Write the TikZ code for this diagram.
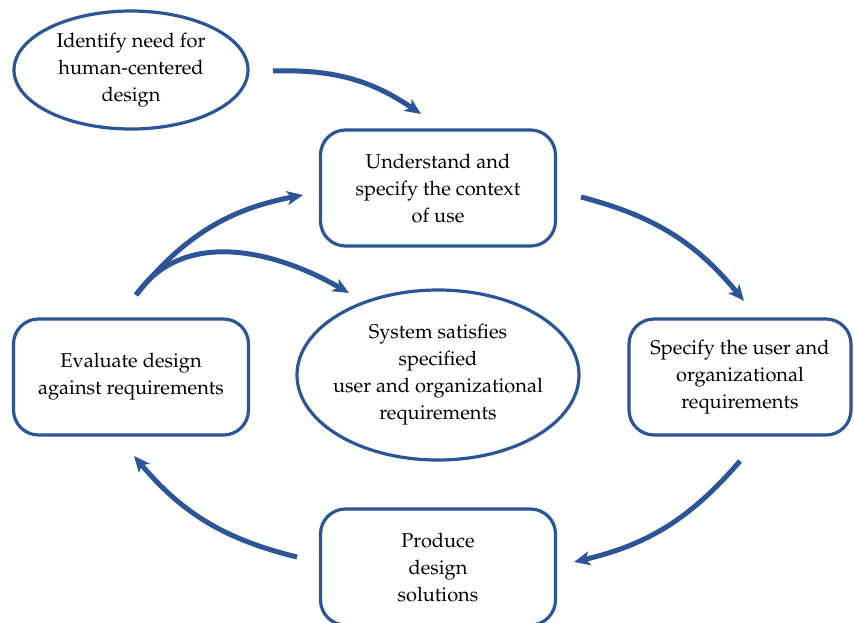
\documentclass[tikz,border=0pt]{standalone}
\usepackage[T1]{fontenc}
\usepackage{mathpazo}
\usetikzlibrary{arrows.meta,shapes.geometric}
\definecolor{hcdblue}{RGB}{44,85,151}

\tikzset{
  stepbox/.style={draw=hcdblue, line width=3.2pt, rounded corners=25pt,
    minimum width=235pt, minimum height=116pt, align=center},
  goal/.style={draw=hcdblue, line width=3.2pt, ellipse, inner sep=0pt, align=center},
  flow/.style={draw=hcdblue, line width=5pt, -{Stealth[length=16pt,width=14pt,inset=4pt]}}
}

\begin{document}
\begin{tikzpicture}[x=1pt, y=-1pt, font=\fontsize{20}{27}\selectfont]
  \useasboundingbox (0,0) rectangle (854,622);
  \clip (0,0) rectangle (854,622);

  \node (need) at (131, 70) [goal, minimum width=234pt, minimum height=118pt] {Identify need for\\human-centered\\design};
  \node (context) at (438, 188) [stepbox] {Understand and\\specify the context\\of use};
  \node (reqs) at (740, 377) [stepbox, minimum width=222pt] {Specify the user and\\organizational\\requirements};
  \node (produce) at (438, 567) [stepbox] {Produce\\design\\solutions};
  \node (evaluate) at (131, 377) [stepbox] {Evaluate design\\against requirements};
  \node (satisfied) at (438, 375) [goal, inner xsep=-18pt, minimum width=282pt, minimum height=170pt] {System satisfies\\specified\\user and organizational\\requirements};

  \coordinate (a1) at (273, 71);
  \coordinate (b1) at (421, 114);
  \coordinate (a2) at (581, 197);
  \coordinate (b2) at (744, 301);
  \coordinate (a3) at (740, 461);
  \coordinate (b3) at (574, 562);
  \coordinate (a4) at (297, 557);
  \coordinate (b4) at (134, 456);
  \coordinate (a5) at (136, 295);
  \coordinate (b5) at (303, 195);
  \coordinate (b6) at (349, 293);

  \draw[flow] (a1) to[bend left=18] (b1);
  \draw[flow] (a2) to[bend left=18] (b2);
  \draw[flow] (a3) to[bend left=18] (b3);
  \draw[flow] (a4) to[bend left=18] (b4);
  \draw[flow] (a5) to[bend left=20] (b5);
  \draw[flow] (a5) to[out=55, in=150] (b6);
\end{tikzpicture}
\end{document}
